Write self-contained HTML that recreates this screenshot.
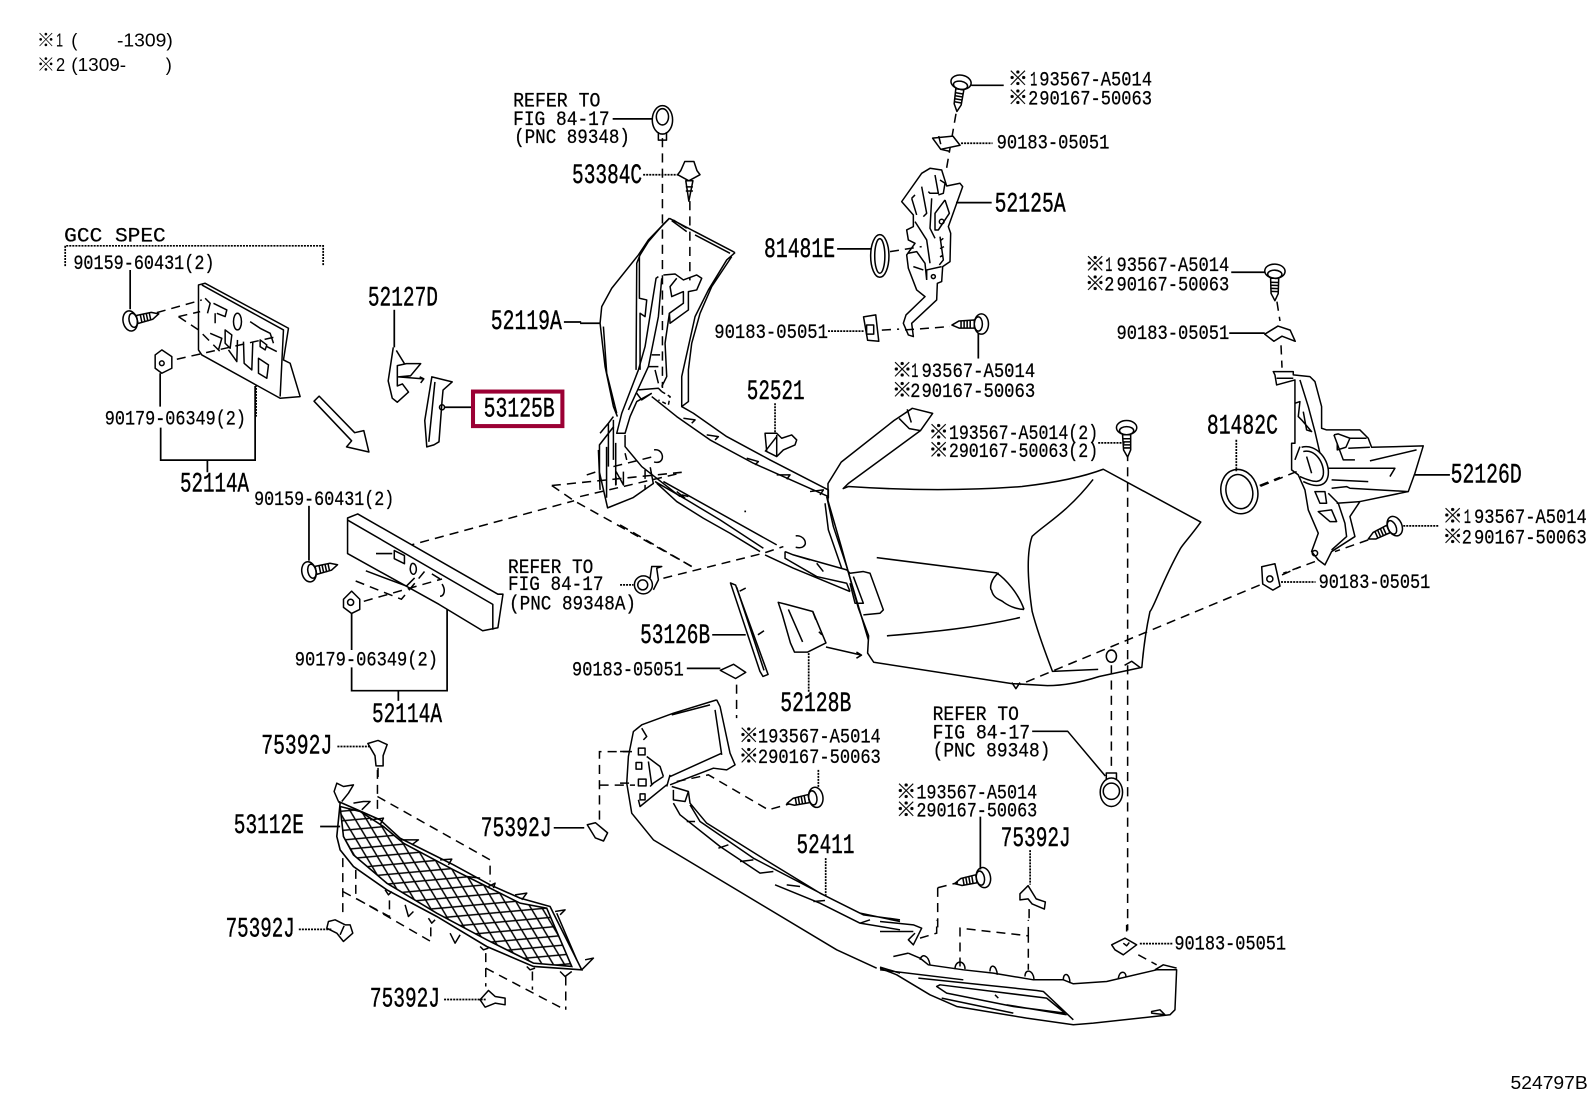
<!DOCTYPE html>
<html><head><meta charset="utf-8"><style>
html,body{margin:0;padding:0;background:#fff;width:1592px;height:1099px;overflow:hidden}
svg{display:block}
text{font-family:"Liberation Mono","Noto Sans CJK JP",monospace;fill:#000}
.b{font-size:27px;font-weight:400;stroke:#000;stroke-width:.4}
.s{font-size:20px;stroke:#000;stroke-width:.25}
.n{font-size:18px;font-family:"Liberation Sans","Noto Sans CJK JP",sans-serif}
.l{fill:#fff;stroke:#000;stroke-width:1.5;stroke-linejoin:round}
.o{fill:none;stroke:#000;stroke-width:1.5;stroke-linejoin:round}
.d{fill:none;stroke:#000;stroke-width:1.5;stroke-dasharray:9 6}
.t{fill:none;stroke:#000;stroke-width:1.7}
.q{fill:none;stroke:#000;stroke-width:1.7;stroke-dasharray:2 1}
.c *{vector-effect:non-scaling-stroke}
</style></head><body>
<svg xmlns="http://www.w3.org/2000/svg" width="1592" height="1099" viewBox="0 0 1567 1082">
<defs>
<pattern id="mesh" width="54" height="34" patternUnits="userSpaceOnUse" patternTransform="rotate(27)">
<path d="M0 17L27 0L54 17L27 34Z" fill="none" stroke="#000" stroke-width="4.5"/>
</pattern>
<g id="bolt">
<path class="l" d="M-7 -4L-22 -3L-29 1L-22 4L-7 4Z"/>
<path class="o" d="M-20 -3V4M-17 -4V4M-14 -4V4M-11 -4V4"/>
<ellipse class="l" cx="0" cy="0" rx="7" ry="10"/>
<ellipse class="o" cx="-3" cy="0" rx="4" ry="7"/>
</g>
</defs>
<rect width="1567" height="1082" fill="#fff"/>

<!-- upper bumper cover -->
<path class="l" d="M815 476L828 455L880 414L883 412L898 402L918 407L906 424L835 476L830 481L835 479C880 482 940 484 1006 479C1040 475 1065 470 1086 462L1182 514C1172 528 1165 535 1162 540C1145 570 1135 600 1132 602C1127 625 1125 645 1124 657L1082 666C1060 673 1045 675 1031 675L996 673L860 652L854 643L855 626L845 599L838 574L828 538L815 493Z"/>
<path class="o" d="M1076 472C1050 505 1030 515 1016 528C1010 545 1012 575 1016 602C1022 625 1030 645 1036 661L1081 659"/>
<path class="o" d="M863 549L981 564C990 570 1003 585 1008 600M983 564C975 570 974 580 976 581C978 590 985 590 988 593C995 598 1003 600 1008 600"/>
<path class="o" d="M873 626C920 622 960 618 1004 608"/>
<path class="o" d="M885 412L895 422L906 424M893 403L897 416"/>
<ellipse class="o" cx="1094" cy="646" rx="5" ry="6"/>
<path class="o" d="M1107 655L1114 651L1122 657"/>
<path class="o" d="M996 672l4 6 4-6"/>

<!-- dashed long -->
<path class="d" d="M652 136V382M679 198V276"/>
<path class="d" d="M543 478L565 493L685 560M543 478L671 465M399 538L565 493"/>
<path class="d" d="M1240 576L1004 674M1094 655V759M1110 445V916"/>

<!-- lower blob of 52119A -->
<path class="o" d="M604 420L590 438V465L598 500L623 490L643 476L640 460"/>
<path class="o" d="M597 440V490M606 436V478"/>
<path class="t" d="M555 317H572"/>

<!-- crop 1: 52119A bracket / beam -->
<g class="c" transform="scale(.98434) translate(580 200) scale(.33333)">
<path class="o" d="M268 55L205 120L175 165L95 265L65 320L60 370L75 500L100 620L112 650M70 380L80 520L110 640"/>
<path class="o" d="M268 55L248 75L205 125L180 165L170 190L168 510M178 170L178 295L200 300L195 350L180 340L180 510"/>
<path class="o" d="M235 230L228 235L195 440L175 510L125 640L110 700H135L150 650L170 605L215 580M245 235L235 350L205 500L145 630"/>
<path class="o" d="M268 55L465 158M275 62L320 95M345 95L460 155M280 60L320 85M345 105L450 160"/>
<path class="o" d="M465 158L440 180L385 270L345 350L325 440L305 530V620L325 605V510L335 430L360 340L395 260L455 170"/>
<path class="o" d="M250 225L285 222L310 240L350 225L365 235L350 270L325 275V330L270 370L268 340L310 310V275L275 290L270 260L290 235"/>
<path class="o" d="M268 340L255 430L260 530L245 560M205 500H235M215 465H240M225 510L235 550M175 570L235 565L245 575M170 580L185 600L215 580"/>
<path class="d" style="stroke-dasharray:4 3" d="M245 575L270 590L265 615L235 600"/>
<path class="o" d="M215 590L290 650L390 720L520 790L745 890M305 620L340 640L440 710L570 780L745 870V895"/>
<path class="o" d="M310 655L345 660L335 670M380 705L415 710L405 720M500 775L535 785L525 795M590 825L630 825L620 838M690 875L730 870L720 885"/>
<path class="o" d="M60 700L85 670L100 650M55 750L60 870M85 670V800M100 660V780M135 705V740L185 800L300 890"/>
<path class="o" d="M108 830V855M108 815L130 855V815M135 760L140 780"/>
<path class="d" d="M100 800L220 770M20 825L60 812M0 890L300 820M195 810V870"/>
<path class="o" d="M222 750C245 745 255 775 240 785C235 788 228 788 222 786"/>
<path class="l" d="M555 700H590L605 715L635 705L650 720L645 735L610 750L590 770L560 755Z"/>
<path class="o" d="M590 705V770M555 755L590 710"/>
<path class="q" d="M585 610V700"/>
<path class="t" d="M0 370H60"/>
</g>

<!-- crop 7: lower beam -->
<g class="c" transform="scale(.98434) translate(620 440) scale(.33333)">
<path class="o" d="M105 125L200 180L300 240L430 325M110 130L170 185L250 235L330 280L420 335M130 125L470 315M435 345L520 385L690 455"/>
<path class="o" d="M170 155L195 175M185 165L205 170"/>
<path class="o" d="M495 335L520 345L680 390L690 400L730 395L750 400L790 510L780 520L730 525M495 335V355L590 410L680 430L690 455M590 370L610 395M520 345L570 360"/>
<path class="o" d="M620 170L640 260L680 380L745 600M615 190L625 270L665 385M700 410L730 490L705 490L690 430"/>
<path class="o" d="M527 288C550 285 565 310 550 320C545 324 535 324 527 322"/>
<rect x="373" y="212" width="5" height="5"/>
<path class="d" d="M130 415L430 340L490 320M0 255L215 380"/>
<circle class="l" cx="70" cy="435" r="27"/>
<circle class="o" cx="68" cy="435" r="15"/>
<path class="o" d="M90 415L95 380L125 380L110 385L115 420L100 450"/>
<path class="q" d="M0 435H40"/>
</g>

<!-- GCC -->
<path class="q" d="M64 262V242H318V262"/>
<g class="c" transform="scale(.98434) translate(120 270) scale(.33333)">
<path class="l" d="M235 45L255 40L505 175L490 270L510 280L540 380L480 385L245 255L235 240Z"/>
<path class="o" d="M245 45L490 180L480 380M255 85L270 100L262 130M280 100L320 120L315 140L290 130M285 130V160M390 155L420 175L450 190L460 220M315 180L335 195L330 235L315 220ZM325 240L350 275L352 210M370 215L372 280L395 300L398 215M415 265L445 285L440 325L415 310ZM420 210L440 225L435 240L420 230ZM270 190L305 205L295 240M440 230L470 245"/>
<ellipse class="o" cx="352" cy="155" rx="12" ry="25"/>
<path class="d" d="M110 128L245 90M175 140L240 125M175 140L235 180L300 245M170 268L470 200"/>
<path class="l" d="M105 255L125 240L155 260V295L125 310L105 295Z"/>
<circle class="o" cx="125" cy="280" r="7"/>
<path class="t" d="M30 0V118M120 310V410"/>
<path class="q" d="M408 345V440"/>
</g>
<use href="#bolt" transform="translate(128 316) rotate(168)"/>
<path class="t" d="M158 421V453H251V380M204 453V465" stroke-width="1.9"/>

<!-- big arrow -->
<path class="l" d="M309 395L314 390L349 426L358 424L363 445L341 440L346 434Z"/>

<!-- top clip -->
<ellipse class="l" cx="652" cy="118" rx="10" ry="14"/>
<ellipse class="o" cx="652" cy="115" rx="6" ry="8"/>
<path class="o" d="M648 130V138H656V130"/>
<path class="t" d="M603 117H642"/>
<path class="l" d="M674 159L683 159L686 168L689 172L678 178L667 172L670 168Z"/>
<path class="l" d="M675 178L678 198L682 178Z"/>
<path class="o" d="M675 184h7M675 188h7"/>
<path class="q" d="M633 172H668"/>

<!-- 52127D -->
<path class="t" d="M388 305V342"/>
<path class="o" d="M387 342L382 375L386 392L391 396L402 386L396 378L391 380L391 360L400 358L414 358L404 370L392 371L417 373M390 345L398 358M413 371l4 2-3 4"/>
<!-- 53125B -->
<path class="l" d="M425 371L445 376L436 384L435 395L432 435L427 438L420 440L418 414Z"/>
<path class="o" d="M428 376L422 435"/>
<circle class="o" cx="435" cy="401" r="2.5"/>
<path class="t" d="M437 401H468"/>
<rect x="465.5" y="385.5" width="88" height="34" fill="#fff" stroke="#9b0034" stroke-width="4"/>

<!-- top-right parts -->
<use href="#bolt" transform="translate(946 81) rotate(-80)"/>
<path class="t" d="M956 84H988"/>
<path class="d" d="M941 112L931 170"/>
<path class="l" d="M918 136L938 134L945 143L926 147Z"/>
<path class="o" d="M926 147L935 149M924 134l2 8"/>
<path class="q" d="M946 141H977"/>

<!-- 52125A -->
<g class="c" transform="scale(.98434) translate(880 150) scale(.33333)">
<path class="l" d="M150 55L125 70L65 155L100 195V230L80 240L85 270L105 280L80 315L85 355L110 420L135 440L78 495L70 520L85 555L100 560L95 520L170 450L172 400L185 395L188 350L210 335L212 250L205 230L248 110L240 100L200 108L185 60Z"/>
<path class="o" d="M95 145L110 195M125 110L140 190L130 200M105 135L95 145M165 75L175 130L150 130L145 125M180 90L195 100L190 130L175 135M155 145L150 235L165 265M195 150L208 190L175 240H165V190L195 150M105 215L140 270L150 340M180 260L190 330L178 345M190 265l-10 8M192 290l-12 6M190 315l-10 6M140 390V360L185 350M85 310L110 305L135 340L140 390M100 350L130 360"/>
<circle class="o" cx="185" cy="215" r="7"/>
<circle class="o" cx="160" cy="380" r="6"/>
<path class="t" d="M228 158H335"/>
<path class="d" d="M75 540L210 530M30 305L125 290"/>
</g>
<path class="t" d="M824 245H858" stroke-width="2"/>
<ellipse class="l" cx="866" cy="252" rx="9" ry="21"/>
<ellipse class="o" cx="866" cy="252" rx="5" ry="17"/>
<path class="l" d="M850 312L862 310L865 336L854 335Z"/>
<rect class="o" x="853" y="320" width="7" height="9"/>
<path class="q" d="M815 326H850"/>
<path class="d" d="M868 325L885 324"/>
<use href="#bolt" transform="translate(966 319)"/>
<path class="t" d="M963 328V353"/>

<!-- 52126D -->
<g class="c" transform="scale(.98434) translate(1260 360) scale(.33333)">
<path class="l" d="M40 35H100V45L150 50L165 65L185 140V205L200 210H300L325 235L335 262L490 258L465 340L445 395L300 425L270 470L285 530L215 575L195 615L175 600L155 575L175 520L145 450L135 390L115 345L95 330V250H105V60L50 75L45 45Z"/>
<path class="o" d="M50 55H100M120 60L145 140L165 215L180 280M105 130L120 125L115 170L125 180L155 215L140 210L130 155"/>
<path class="o" d="M125 262C170 250 210 300 205 345C200 380 170 385 130 365M130 275C165 265 195 310 190 345C185 370 165 370 120 350"/>
<path class="o" d="M120 260L105 300M140 290L155 340M222 225L235 222L270 235H320M222 225L250 300H285M232 250V270L258 262L270 235M265 265L330 262M330 303L470 270M205 325H405L390 350M215 360L325 365M215 385L260 380L270 385L445 395M230 430L300 425M165 395H195L200 430H180ZM175 455L215 450L230 485H210ZM205 400L235 430L255 490L260 530L215 570"/>
<circle class="o" cx="165" cy="580" r="8"/>
<path class="t" d="M465 345H570"/>
<path class="q" d="M430 498H535"/>
<path class="d" d="M325 540L225 575M165 605L70 640M110 335L0 380"/>
</g>
<use href="#bolt" transform="translate(1373 518) rotate(-24)"/>
<ellipse class="l" cx="1220" cy="484" rx="18" ry="22" transform="rotate(-14 1220 484)"/>
<ellipse class="o" cx="1220" cy="484" rx="13" ry="17" transform="rotate(-14 1220 484)"/>
<path class="q" d="M1217 433V464"/>
<path class="d" d="M1240 478L1260 470"/>
<use href="#bolt" transform="translate(1255 267) rotate(-88)"/>
<path class="t" d="M1212 268H1245"/>
<path class="d" d="M1257 297L1260 316"/>
<path class="l" d="M1245 329L1258 321L1270 325L1275 336L1262 331L1254 336Z"/>
<path class="t" d="M1210 328H1245"/>
<path class="d" d="M1261 340L1262 362"/>
<path class="l" d="M1242 558L1255 555L1260 577L1253 581L1243 575Z"/>
<circle class="o" cx="1250" cy="570" r="3"/>
<path class="q" d="M1261 573H1295"/>
<path class="d" d="M1262 566L1280 558"/>

<!-- bumper bolt -->
<use href="#bolt" transform="translate(1109 421) rotate(-90)"/>
<path class="q" d="M1081 436H1107"/>

<!-- refer clip -->
<ellipse class="l" cx="1094" cy="780" rx="11" ry="14"/>
<ellipse class="o" cx="1094" cy="779" rx="8" ry="8"/>
<path class="o" d="M1089 768V761H1099V768"/>
<path class="o" d="M1016 720H1051L1088 764"/>

<!-- lower bumper right part -->
<g class="c" transform="scale(.98434) translate(880 920) scale(.33333)">
<path class="l" d="M0 145L50 165L150 225L230 260L440 295L580 315L640 310L870 285L885 270L890 150L830 150L680 185L580 192L550 180H460L340 160L250 150L145 135L120 115L85 100"/>
<path class="o" d="M85 100L40 110"/>
<path class="o" d="M0 150L250 180M115 175L470 212L490 215L580 300M170 200L180 195L340 215L500 235L555 280L400 260L200 220ZM185 235L400 280M345 225L355 235M380 255L560 285M0 142L60 160"/>
<path class="o" d="M0 5L100 15L125 25L115 45M0 35L100 35"/>
<path class="o" d="M120 120C125 100 145 105 150 135M225 148C225 120 255 120 255 148M330 155C330 130 350 135 352 165M435 170C435 145 460 150 462 178M550 180C550 155 570 160 570 190M715 175C720 150 738 155 738 170M825 150L850 135L890 145M815 280L855 285L840 270L815 275Z"/>
<path class="o" d="M105 40L85 60L100 75L115 45"/>
<path class="d" d="M120 55L170 40V0M240 140V25L445 48V150M445 48V0M775 105L830 135M740 15V35"/>
<path class="l" d="M695 75L735 55L770 75L730 105L705 90Z"/>
<path class="o" d="M730 70L740 78L748 68"/>
</g>
<path class="q" d="M1122 929H1154"/>

<!-- lower bumper left -->
<g class="c" transform="scale(.98434) translate(620 690) scale(.33333)">
<path class="o" d="M290 30L160 70L65 105L40 125L25 200L20 280L35 370L100 450L650 780L770 835M290 30L300 50L330 190L345 225L320 240L280 235L150 285M155 75L270 45M285 60L305 195M150 260L305 190M150 255L140 290M65 115L80 140L70 150M140 285L60 350L55 330"/>
<path class="o" d="M55 175H75V195H55ZM48 218H65V238H48ZM55 268H78V288H55ZM60 312H75V330H60ZM80 200L120 230L130 260M90 290L100 280L130 260M85 215L95 285"/>
<path class="o" d="M155 290L205 305L210 340L260 400L420 500L600 610L720 670L840 695M160 340L180 375L300 470L420 550L460 545M465 585L600 640L720 700L840 720M210 345L240 395L400 505L620 620L730 675L840 690"/>
<path class="o" d="M200 395L225 395M295 475L325 465M360 515L400 510M500 585L540 590M580 635L615 632M720 700L750 690M160 300V330L195 335L205 305"/>
<path class="d" d="M170 275L265 255L445 360L515 340M0 185H35M0 280H35"/>
<path class="q" d="M595 240V295M617 505V620"/>
</g>
<use href="#bolt" transform="translate(803 785) rotate(-10)"/>
<use href="#bolt" transform="translate(968 864) rotate(-10)"/>
<path class="t" d="M965 804V856"/>
<path class="l" d="M1004 880L1012 872L1020 885L1029 888L1028 895L1016 890L1012 885L1004 886Z"/>
<path class="q" d="M1014 837V871"/>
<path class="d" d="M923 874L943 869"/>
<path class="d" d="M923 874V916"/>
<path class="d" d="M1013 895V905"/>

<!-- 75392J right-of-grille -->
<path class="l" d="M578 812L586 810L598 820L594 828L586 825Z"/>
<path class="t" d="M545 815H575"/>
<path class="d" d="M590 807V740H622M590 773H625"/>
<path class="l" d="M709 660L722 654L734 662L724 668Z"/>
<path class="t" d="M676 658H709"/>
<path class="d" d="M725 674V707"/>
<path class="l" d="M719 574L724 576L756 664L751 666L748 661Z"/>
<path class="o" d="M728 582l6-3M746 625l6-4M725 578L752 660"/>
<path class="t" d="M701 625H734" stroke-width="2"/>
<path class="l" d="M766 593L774 595L800 602L813 633L795 642L782 642L778 633L770 605Z"/>
<path class="o" d="M776 600L790 632M800 602l3 8M806 622l3 3"/>
<path class="o" d="M813 637L848 645M843 642l5 3-5 3"/>
<path class="q" d="M796 643V681"/>

<!-- reinforcement -->
<path class="l" d="M342 510L352 506L490 585L495 585L490 618L475 621L432 595L342 545Z"/>
<path class="o" d="M342 512L485 595V620"/>
<path class="o" d="M370 545h16M388 542l10 5v8l-10-5ZM405 555c-3 6 0 12 3 10s2-12-3-10M425 565l8 5M435 575c4 6 2 12-2 12M360 562l40 15 8-8"/>
<path class="t" d="M304 498V552"/>
<use href="#bolt" transform="translate(304 563) rotate(168)"/>
<path class="d" d="M350 572L395 590L420 560"/>
<path class="l" d="M338 590L346 582L354 590V600L346 604L338 598Z"/>
<circle class="o" cx="345" cy="593" r="3"/>
<path class="d" d="M358 592L435 570"/>
<path class="t" d="M346 604V640M346 657V680H440V600M392 680V690" stroke-width="1.9"/>

<!-- grille -->
<g class="c" transform="scale(.98434) translate(320 770) scale(.33333)">
<path d="M55 95L180 150L240 205L320 245L400 285L510 345L600 385L690 410L785 600L640 590L500 530L350 440L200 360L100 290L60 240L50 200L60 100Z" fill="#fff" stroke="#000" stroke-width="1.6"/>
<path d="M60 110L70 200L100 255L200 340L350 430L500 510L640 580L755 590L680 415L600 400L500 350L400 300L250 220L190 170L120 125Z" fill="url(#mesh)" stroke="#000" stroke-width="1.6"/>
<path class="o" d="M55 95L42 65L50 40L70 50L100 45L85 70L65 95M100 100L130 95L150 95L125 120M150 150L190 145L180 165M240 210L295 210L275 225M360 270L395 268L385 285M440 320L480 325M505 350L525 340L520 355M585 375L620 370L605 390M705 425L735 420L720 435M785 600L820 565L795 570M710 430L770 570"/>
<path class="o" d="M195 360L205 375L215 365M255 405L265 440L280 425M325 445L335 460L345 450M390 490L405 520L420 495M480 530L490 540L505 535M620 590L630 600L645 595M720 605L735 620L755 605"/>
<path class="t" d="M0 170H60"/>
<path class="d" d="M172 0V130M172 80L510 270V335M68 265V440M68 365L208 440V385M107 300V385L332 515V455M497 550V650M497 595L735 720M637 605V660M737 620V720"/>
<path class="l" d="M25 455L45 450L75 465L90 465L98 490L70 515L50 490L20 475Z"/>
<path class="o" d="M72 468L60 495"/>
<path class="l" d="M480 690L505 662L525 680L555 685V705L525 700L495 712Z"/>
</g>
<path class="l" d="M362 732L372 729L381 733L377 744V754H370L369 744Z"/>
<path class="q" d="M332 735H364"/>
<path class="q" d="M294 915H326"/>
<path class="q" d="M437 984H478"/>
<path class="d" d="M372 756V770"/>

<!-- TEXT -->
<text class="n" x="36" y="46">※</text><text class="n" x="55" y="46" textLength="7" lengthAdjust="spacingAndGlyphs">1</text><text class="n" x="70" y="46">(</text><text class="n" x="115" y="46" textLength="55" lengthAdjust="spacingAndGlyphs">-1309)</text>
<text class="n" x="36" y="70">※</text><text class="n" x="55" y="70" textLength="9" lengthAdjust="spacingAndGlyphs">2</text><text class="n" x="70" y="70" textLength="54" lengthAdjust="spacingAndGlyphs">(1309-</text><text class="n" x="163" y="70">)</text>

<text class="s" x="505" y="105" textLength="86" lengthAdjust="spacingAndGlyphs">REFER TO</text>
<text class="s" x="505" y="123" textLength="95" lengthAdjust="spacingAndGlyphs">FIG 84-17</text>
<text class="s" x="506" y="141" textLength="114" lengthAdjust="spacingAndGlyphs">(PNC 89348)</text>
<text class="b" x="563" y="180" textLength="69" lengthAdjust="spacingAndGlyphs">53384C</text>
<text class="s" x="63" y="238" textLength="100" lengthAdjust="spacingAndGlyphs">GCC SPEC</text>
<text class="s" x="72" y="265" textLength="139" lengthAdjust="spacingAndGlyphs">90159-60431(2)</text>
<text class="b" x="362" y="301" textLength="69" lengthAdjust="spacingAndGlyphs">52127D</text>
<text class="b" x="483" y="324" textLength="70" lengthAdjust="spacingAndGlyphs">52119A</text>
<text class="b" x="752" y="253" textLength="70" lengthAdjust="spacingAndGlyphs">81481E</text>
<text class="s" x="703" y="333" textLength="112" lengthAdjust="spacingAndGlyphs">90183-05051</text>
<text class="s" x="103" y="418" textLength="139" lengthAdjust="spacingAndGlyphs">90179-06349(2)</text>
<text class="b" x="177" y="484" textLength="68" lengthAdjust="spacingAndGlyphs">52114A</text>
<text class="s" x="250" y="497" textLength="138" lengthAdjust="spacingAndGlyphs">90159-60431(2)</text>
<text class="b" x="476" y="410" textLength="70" lengthAdjust="spacingAndGlyphs">53125B</text>
<text class="b" x="735" y="393" textLength="57" lengthAdjust="spacingAndGlyphs">52521</text>

<text class="s" x="992" y="84">※</text><text class="s" x="1014" y="84" textLength="7" lengthAdjust="spacingAndGlyphs">1</text><text class="s" x="1023" y="84" textLength="111" lengthAdjust="spacingAndGlyphs">93567-A5014</text>
<text class="s" x="992" y="103">※</text><text class="s" x="1012" y="103" textLength="10" lengthAdjust="spacingAndGlyphs">2</text><text class="s" x="1023" y="103" textLength="111" lengthAdjust="spacingAndGlyphs">90167-50063</text>
<text class="s" x="981" y="146" textLength="111" lengthAdjust="spacingAndGlyphs">90183-05051</text>
<text class="b" x="979" y="208" textLength="70" lengthAdjust="spacingAndGlyphs">52125A</text>
<text class="s" x="878" y="371">※</text><text class="s" x="897" y="371" textLength="7" lengthAdjust="spacingAndGlyphs">1</text><text class="s" x="907" y="371" textLength="112" lengthAdjust="spacingAndGlyphs">93567-A5014</text>
<text class="s" x="878" y="391">※</text><text class="s" x="896" y="391" textLength="10" lengthAdjust="spacingAndGlyphs">2</text><text class="s" x="907" y="391" textLength="112" lengthAdjust="spacingAndGlyphs">90167-50063</text>
<text class="s" x="1068" y="267">※</text><text class="s" x="1088" y="267" textLength="7" lengthAdjust="spacingAndGlyphs">1</text><text class="s" x="1099" y="267" textLength="111" lengthAdjust="spacingAndGlyphs">93567-A5014</text>
<text class="s" x="1068" y="286">※</text><text class="s" x="1087" y="286" textLength="10" lengthAdjust="spacingAndGlyphs">2</text><text class="s" x="1099" y="286" textLength="111" lengthAdjust="spacingAndGlyphs">90167-50063</text>
<text class="s" x="1099" y="334" textLength="111" lengthAdjust="spacingAndGlyphs">90183-05051</text>
<text class="b" x="1188" y="427" textLength="70" lengthAdjust="spacingAndGlyphs">81482C</text>
<text class="s" x="914" y="432">※</text><text class="s" x="934" y="432" textLength="147" lengthAdjust="spacingAndGlyphs">193567-A5014(2)</text>
<text class="s" x="914" y="450">※</text><text class="s" x="934" y="450" textLength="147" lengthAdjust="spacingAndGlyphs">290167-50063(2)</text>
<text class="b" x="1428" y="475" textLength="70" lengthAdjust="spacingAndGlyphs">52126D</text>
<text class="s" x="1420" y="515">※</text><text class="s" x="1441" y="515" textLength="7" lengthAdjust="spacingAndGlyphs">1</text><text class="s" x="1451" y="515" textLength="111" lengthAdjust="spacingAndGlyphs">93567-A5014</text>
<text class="s" x="1420" y="535">※</text><text class="s" x="1439" y="535" textLength="10" lengthAdjust="spacingAndGlyphs">2</text><text class="s" x="1451" y="535" textLength="111" lengthAdjust="spacingAndGlyphs">90167-50063</text>

<text class="s" x="500" y="564" textLength="84" lengthAdjust="spacingAndGlyphs">REFER TO</text>
<text class="s" x="500" y="581" textLength="94" lengthAdjust="spacingAndGlyphs">FIG 84-17</text>
<text class="s" x="501" y="600" textLength="125" lengthAdjust="spacingAndGlyphs">(PNC 89348A)</text>
<text class="b" x="630" y="633" textLength="69" lengthAdjust="spacingAndGlyphs">53126B</text>
<text class="s" x="563" y="665" textLength="110" lengthAdjust="spacingAndGlyphs">90183-05051</text>
<text class="s" x="290" y="655" textLength="141" lengthAdjust="spacingAndGlyphs">90179-06349(2)</text>
<text class="b" x="366" y="711" textLength="69" lengthAdjust="spacingAndGlyphs">52114A</text>
<text class="b" x="768" y="700" textLength="70" lengthAdjust="spacingAndGlyphs">52128B</text>
<text class="b" x="257" y="742" textLength="70" lengthAdjust="spacingAndGlyphs">75392J</text>
<text class="b" x="230" y="820" textLength="69" lengthAdjust="spacingAndGlyphs">53112E</text>
<text class="b" x="473" y="823" textLength="70" lengthAdjust="spacingAndGlyphs">75392J</text>
<text class="b" x="222" y="922" textLength="68" lengthAdjust="spacingAndGlyphs">75392J</text>
<text class="b" x="364" y="991" textLength="69" lengthAdjust="spacingAndGlyphs">75392J</text>
<text class="s" x="727" y="731">※</text><text class="s" x="746" y="731" textLength="121" lengthAdjust="spacingAndGlyphs">193567-A5014</text>
<text class="s" x="727" y="751">※</text><text class="s" x="746" y="751" textLength="121" lengthAdjust="spacingAndGlyphs">290167-50063</text>
<text class="s" x="1298" y="579" textLength="110" lengthAdjust="spacingAndGlyphs">90183-05051</text>
<text class="s" x="918" y="709" textLength="85" lengthAdjust="spacingAndGlyphs">REFER TO</text>
<text class="s" x="918" y="727" textLength="96" lengthAdjust="spacingAndGlyphs">FIG 84-17</text>
<text class="s" x="918" y="745" textLength="116" lengthAdjust="spacingAndGlyphs">(PNC 89348)</text>
<text class="s" x="882" y="786">※</text><text class="s" x="902" y="786" textLength="119" lengthAdjust="spacingAndGlyphs">193567-A5014</text>
<text class="s" x="882" y="804">※</text><text class="s" x="902" y="804" textLength="119" lengthAdjust="spacingAndGlyphs">290167-50063</text>
<text class="b" x="784" y="840" textLength="57" lengthAdjust="spacingAndGlyphs">52411</text>
<text class="b" x="985" y="833" textLength="69" lengthAdjust="spacingAndGlyphs">75392J</text>
<text class="s" x="1156" y="935" textLength="110" lengthAdjust="spacingAndGlyphs">90183-05051</text>
<text class="n" x="1487" y="1072" textLength="76" lengthAdjust="spacingAndGlyphs">524797B</text>
</svg>
</body></html>
